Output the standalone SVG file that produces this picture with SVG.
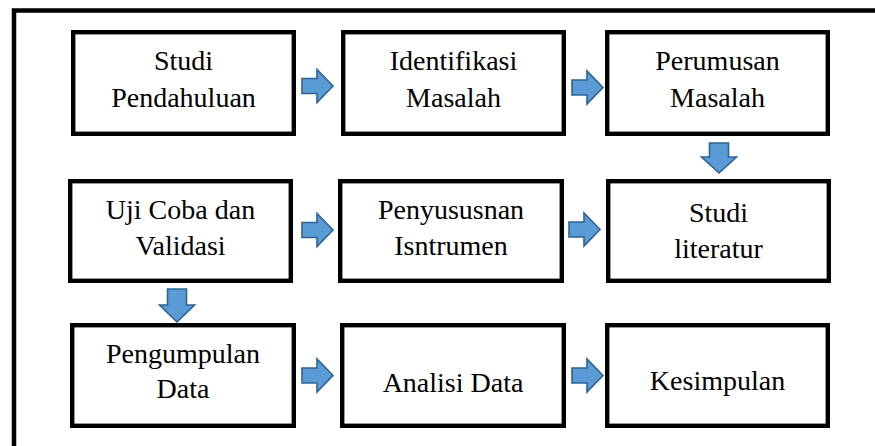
<svg xmlns="http://www.w3.org/2000/svg" width="875" height="446" viewBox="0 0 875 446">
<style>
.box{fill:#fff;stroke:#000;stroke-width:4.4}
.arr{fill:#5B9BD5;stroke:#2E6391;stroke-width:1.6;stroke-linejoin:miter}
</style>
<rect width="875" height="446" fill="#fff"/>
<path d="M14,446 V10.5 H875" fill="none" stroke="#000" stroke-width="4.5"/>
<g font-family="Liberation Serif, serif" font-size="28" text-anchor="middle" fill="#000">
<g id="n1"><rect class="box" x="73.2" y="32.2" width="220.6" height="101.6"/><text x="183.5" y="70">Studi</text><text x="183.5" y="107">Pendahuluan</text></g>
<g id="n2"><rect class="box" x="343.2" y="32.2" width="220.6" height="101.6"/><text x="453.5" y="70">Identifikasi</text><text x="453.5" y="107">Masalah</text></g>
<g id="n3"><rect class="box" x="607.2" y="32.2" width="220.6" height="101.6"/><text x="717.5" y="70">Perumusan</text><text x="717.5" y="107">Masalah</text></g>
<g id="n4"><rect class="box" x="70.2" y="181.2" width="220.6" height="99.6"/><text x="180.5" y="219">Uji Coba dan</text><text x="180.5" y="255">Validasi</text></g>
<g id="n5"><rect class="box" x="340.2" y="181.2" width="221.6" height="99.6"/><text x="451" y="219">Penyususnan</text><text x="451" y="255">Isntrumen</text></g>
<g id="n6"><rect class="box" x="608.2" y="181.2" width="220.6" height="99.6"/><text x="718.5" y="222">Studi</text><text x="718.5" y="258">literatur</text></g>
<g id="n7"><rect class="box" x="72.2" y="325.2" width="221.6" height="100.6"/><text x="183" y="363">Pengumpulan</text><text x="183" y="398">Data</text></g>
<g id="n8"><rect class="box" x="342.2" y="325.2" width="221.6" height="100.6"/><text x="453" y="392">Analisi Data</text></g>
<g id="n9"><rect class="box" x="607.2" y="325.2" width="220.6" height="100.6"/><text x="717.5" y="390">Kesimpulan</text></g>
</g>
<g id="connectors">
<path class="arr" d="M302,78.5 H317 V69.5 L333,86 L317,102.5 V93.5 H302 Z"/>
<path class="arr" d="M572,80 H587 V71 L603,87.5 L587,104 V95 H572 Z"/>
<path class="arr" d="M709.5,143 H728.5 V157 H736.5 L719,173 L701.5,157 H709.5 Z"/>
<path class="arr" d="M302,222.5 H317 V213.5 L333,230 L317,246.5 V237.5 H302 Z"/>
<path class="arr" d="M569,222 H584 V213 L600,229.5 L584,246 V237 H569 Z"/>
<path class="arr" d="M167.5,289 H186.5 V305 H194.5 L177,322 L159.5,305 H167.5 Z"/>
<path class="arr" d="M302,368 H317 V359 L333,375.5 L317,392 V383 H302 Z"/>
<path class="arr" d="M572,368 H587 V359 L603,375.5 L587,392 V383 H572 Z"/>
</g>
</svg>
